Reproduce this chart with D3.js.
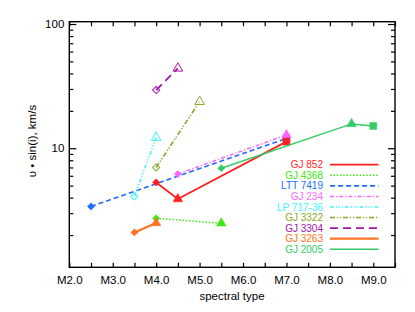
<!DOCTYPE html>
<html>
<head>
<meta charset="utf-8">
<script src="https://cdn.jsdelivr.net/npm/d3@7"></script>
<style>
  body { margin: 0; background: #fff; }
  text { font-family: "Liberation Sans", Arial, sans-serif; }
</style>
</head>
<body>
<div id="chart"></div>
<script>
// stars in legend order
var stars = ["GJ 852", "GJ 4368", "LTT 7419", "GJ 234", "LP 717-36", "GJ 3322", "GJ 3304", "GJ 3263", "GJ 2005"];
// spectral subtype (M x.x) for each measurement
var sptype = [[4.0, 4.5, 7.0], [4.0, 5.5], [2.5, 7.0], [4.5, 7.0], [3.5, 4.0], [4.0, 5.0], [4.0, 4.5], [3.5, 4.0], [5.5, 8.5, 9.0]];
// v sin(i) in km/s
var vsini = [[5.3, 3.9, 11.3], [2.73, 2.49], [3.4, 12.0], [6.2, 12.8], [4.1, 12.2], [7.0, 23.7], [29.4, 44.0], [2.1, 2.5], [6.9, 15.7, 15.1]];
var xTicks = [2, 3, 4, 5, 6, 7, 8, 9];

var colors = ["#ff1f1f", "#3ee810", "#1f6cff", "#ff66ff", "#3cf4ff", "#88a82a", "#a414a8", "#ff7322", "#33cc66"];
var dashes = [null, "1.5,1.8", "5,3", "4,2,1.2,2", "4,2,1.2,1.6,1.2,1.6,1.2,2", "5,2,1.2,1.6,1.2,2", "8,5", null, null];
var widths = [1.8, 1.5, 1.6, 1.5, 1.5, 1.6, 1.8, 2.2, 1.5];
var openMarks = [false, false, false, false, true, true, true, false, false];

var svgWidth = 415, svgHeight = 312;
var margin = {top: 21.7, right: 20, bottom: 44.7, left: 69.3};
var width = 395 - margin.left;
var height = 267.3 - margin.top;

var svg = d3.select("#chart").append("svg")
  .attr("width", svgWidth)
  .attr("height", svgHeight);

var g = svg.append("g")
  .attr("transform", `translate(${margin.left}, ${margin.top})`);

var x = d3.scaleLinear().domain([2, 9.5]).range([0, width]);
var y = d3.scaleLog().domain([1.1, 104.4]).range([height, 0]);

// axes
var halfTicks = d3.range(2, 9.51, 0.5);
var xFmt = d => (Math.abs(d - Math.round(d)) < 1e-6 && xTicks.indexOf(Math.round(d)) >= 0) ? "M" + d.toFixed(1) : "";

g.append("g")
  .attr("transform", `translate(0, ${height})`)
  .call(d3.axisBottom(x).tickValues(halfTicks).tickSizeInner(-4.5).tickSizeOuter(0).tickPadding(9).tickFormat(xFmt))
  .call(a => a.selectAll("text").attr("font-size", "11.5px").attr("fill", "#000"));
g.append("g")
  .call(d3.axisTop(x).tickValues(halfTicks).tickSizeInner(-4.5).tickSizeOuter(0).tickFormat(""));

var yTickVals = [2, 3, 4, 5, 6, 7, 8, 9, 10, 20, 30, 40, 50, 60, 70, 80, 90, 100];
var isMajor = d => d === 10 || d === 100;

g.append("g")
  .call(d3.axisLeft(y).tickValues(yTickVals).tickSizeOuter(0).tickPadding(4)
    .tickFormat(d => isMajor(d) ? d : ""))
  .call(a => a.selectAll(".tick line").attr("x2", d => isMajor(d) ? 7 : 4))
  .call(a => a.selectAll("text").attr("font-size", "11.5px").attr("fill", "#000").attr("x", -5));
g.append("g")
  .attr("transform", `translate(${width}, 0)`)
  .call(d3.axisRight(y).tickValues(yTickVals).tickSizeOuter(0).tickFormat(""))
  .call(a => a.selectAll(".tick line").attr("x2", d => isMajor(d) ? -7 : -4));

g.selectAll(".domain").remove();
g.selectAll(".tick line").attr("stroke", "#000").attr("stroke-width", 1.2);

g.append("rect")
  .attr("width", width).attr("height", height)
  .attr("fill", "none").attr("stroke", "#000").attr("stroke-width", 1.4);

// series
var order = [2, 3, 0, 1, 4, 5, 6, 7, 8];
var line = d3.line().x(d => x(d[0])).y(d => y(d[1]));
var diamond = d3.symbol(d3.symbolSquare, 26);
var tri = d3.symbol(d3.symbolTriangle, 40);
var sq = d3.symbol(d3.symbolSquare, 48);

order.forEach(function(i) {
  var pts = sptype[i].map((s, j) => [s, vsini[i][j]]);
  g.append("path")
    .datum(pts)
    .attr("d", line)
    .attr("fill", "none")
    .attr("stroke", colors[i])
    .attr("stroke-width", widths[i])
    .attr("stroke-dasharray", dashes[i]);

  g.selectAll(null)
    .data(pts)
    .enter()
    .append("path")
    .attr("d", (d, j) => j === 0 ? diamond() : (j === 2 || stars[i] === "LTT 7419") ? sq() : tri())
    .attr("transform", (d, j) => `translate(${x(d[0])}, ${y(d[1])})` + (j === 0 ? " rotate(45)" : ""))
    .attr("fill", openMarks[i] ? "none" : colors[i])
    .attr("stroke", colors[i])
    .attr("stroke-width", openMarks[i] ? 1 : 0.5);
});

// legend
var legend = svg.append("g");
stars.forEach(function(name, i) {
  var ly = 164.7 + i * 10.57;
  legend.append("text")
    .attr("x", 323).attr("y", ly + 3.6)
    .attr("text-anchor", "end")
    .attr("font-size", "10px")
    .attr("fill", colors[i])
    .text(name);
  legend.append("line")
    .attr("x1", 330).attr("x2", 378.5)
    .attr("y1", ly).attr("y2", ly)
    .attr("stroke", colors[i])
    .attr("stroke-width", widths[i])
    .attr("stroke-dasharray", dashes[i]);
});

// axis labels
svg.append("text")
  .attr("x", 232).attr("y", 299.5)
  .attr("text-anchor", "middle")
  .attr("font-size", "11.5px")
  .text("spectral type");

svg.append("text")
  .attr("transform", "translate(36, 141) rotate(-90)")
  .attr("text-anchor", "middle")
  .attr("font-size", "11.5px")
  .text("υ • sin(i), km/s");
</script>
</body>
</html>
